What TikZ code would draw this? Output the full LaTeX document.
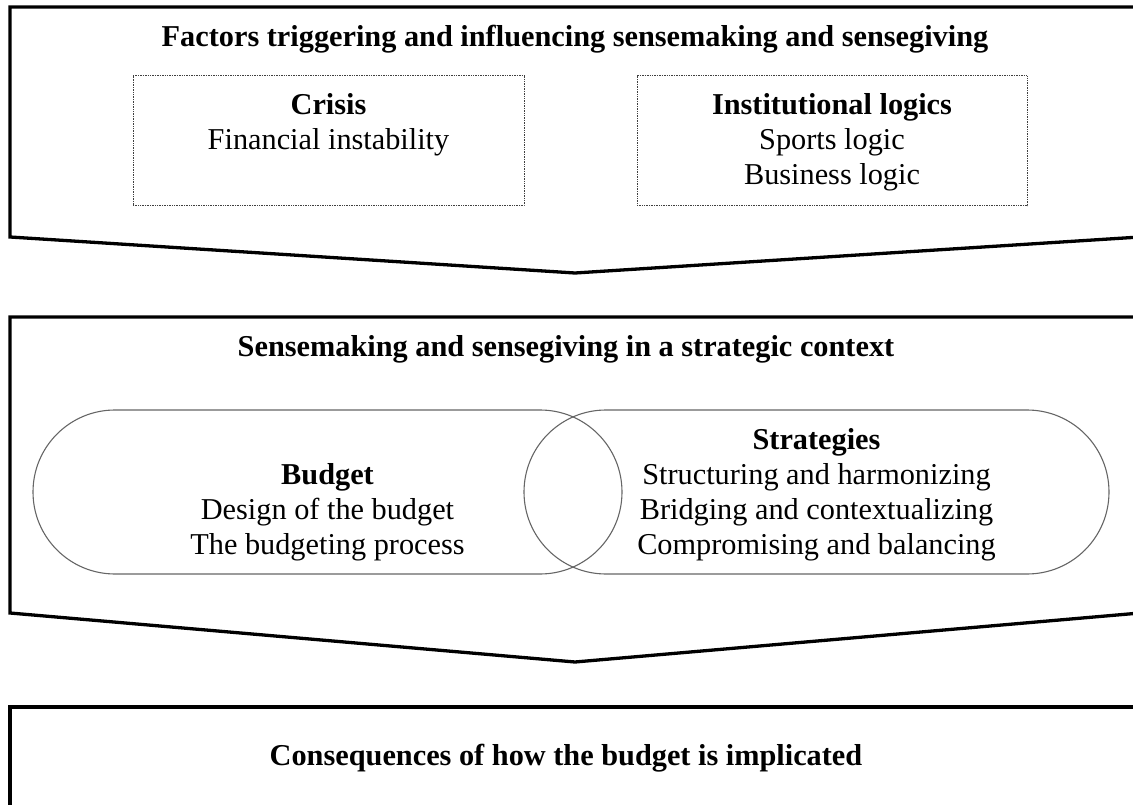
\documentclass[tikz,border=0pt]{standalone}
\usepackage{fontspec}
\setmainfont{Liberation Serif}
\usetikzlibrary{shapes.misc}
\begin{document}
\begin{tikzpicture}[x=1pt,y=-1pt,
  frame/.style={line width=3.3pt, line join=miter},
  dotbox/.style={draw=black!75, line width=1pt, dash pattern=on 1pt off 0.7pt, inner sep=0pt},
  pill/.style={draw=black!60, line width=1.1pt, rounded rectangle, inner sep=0pt},
  txt/.style={anchor=base, inner sep=0pt, font=\fontsize{30.3}{35}\selectfont},
  head/.style={anchor=base, inner sep=0pt, font=\fontsize{30.3}{35}\selectfont\bfseries}]
\useasboundingbox (0,0) rectangle (1133,805);
\begin{scope}
  \clip (0,0) rectangle (1133,805);
  % three stages, the first two pointing down
  \draw[frame] (10,237) -- (10,7) -- (1140,7) -- (1140,237) -- (575,273) -- cycle;
  \draw[frame] (10,613) -- (10,317) -- (1140,317) -- (1140,613) -- (575,662) -- cycle;
  \draw[frame] (10,830) -- (10,707) -- (1145,707) -- (1145,830) -- cycle;
\end{scope}

% stage 1
\node[head] (t1) at (575,47) {Factors triggering and influencing sensemaking and sensegiving};
\node[dotbox, minimum width=391pt, minimum height=130pt] (crisisbox) at (328.5,141) {};
\node[dotbox, minimum width=390pt, minimum height=130pt] (logicbox) at (832,141) {};
\node[head] (crisis) at (328.5,115) {Crisis};
\node[txt] (fin) at (328.5,150) {Financial instability};
\node[head] (logics) at (832,115) {Institutional logics};
\node[txt] (sport) at (832,150) {Sports logic};
\node[txt] (business) at (832,185) {Business logic};

% stage 2
\node[head] (t2) at (566,356) {Sensemaking and sensegiving in a strategic context};
\node[pill, minimum width=589pt, minimum height=164pt] (budgetpill) at (327.5,492) {};
\node[pill, minimum width=585pt, minimum height=164pt] (stratpill) at (816.5,492) {};
\node[head] (budget) at (327.5,484) {Budget};
\node[txt] (design) at (327.5,519) {Design of the budget};
\node[txt] (process) at (327.5,554) {The budgeting process};
\node[head] (strat) at (816.5,449) {Strategies};
\node[txt] (s1) at (816.5,484) {Structuring and harmonizing};
\node[txt] (s2) at (816.5,519) {Bridging and contextualizing};
\node[txt] (s3) at (816.5,554) {Compromising and balancing};

% stage 3
\node[head] (t3) at (566,765) {Consequences of how the budget is implicated};
\end{tikzpicture}
\end{document}
